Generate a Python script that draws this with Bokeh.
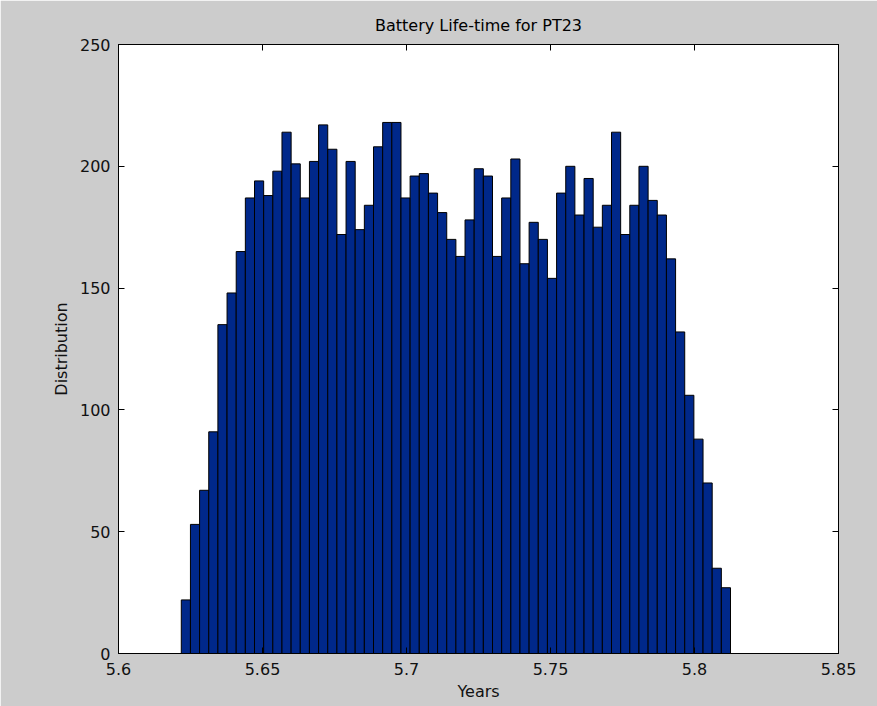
import numpy as np
from bokeh.plotting import figure
from bokeh.models import Range1d, LinearAxis, FixedTicker, CustomJSTickFormatter
from bokeh.embed import file_html
from bokeh.resources import INLINE

# ---- data ----
title_text = "Battery Life-time for PT23"
x_label = "Years"
y_label = "Distribution"

bin_first_edge = 5.6218
bin_last_edge = 5.8125
counts = [22, 53, 67, 91, 135, 148, 165, 187, 194, 188,
          198, 214, 201, 187, 202, 217, 207, 172, 202, 174,
          184, 208, 218, 218, 187, 196, 197, 189, 181, 170,
          163, 178, 199, 196, 163, 187, 203, 160, 177, 170,
          154, 189, 200, 180, 195, 175, 184, 214, 172, 184,
          200, 186, 180, 162, 132, 106, 88, 70, 35, 27]

x_ticks = [5.6, 5.65, 5.7, 5.75, 5.8, 5.85]
x_tick_labels = ["5.6", "5.65", "5.7", "5.75", "5.8", "5.85"]
y_ticks = [0, 50, 100, 150, 200, 250]

edges = np.linspace(bin_first_edge, bin_last_edge, len(counts) + 1)

FONT = "DejaVu Sans"
BG = "#cccccc"
BAR = "#00288a"

p = figure(width=877, height=706, output_backend="svg", toolbar_location=None,
           x_range=Range1d(5.6, 5.85), y_range=Range1d(0, 250),
           min_border_left=118, min_border_right=39, min_border_top=44, min_border_bottom=53)
p.background_fill_color = "white"
p.border_fill_color = BG
p.outline_line_color = "black"
p.outline_line_width = 1
p.xgrid.visible = False
p.ygrid.visible = False

p.title.text = title_text
p.title.align = "center"
p.title.text_font = FONT
p.title.text_font_size = "16px"
p.title.text_font_style = "normal"
p.title.text_color = "black"
p.title.standoff = 19

p.quad(left=edges[:-1], right=edges[1:], bottom=0, top=counts,
       fill_color=BAR, line_color="black", line_width=1)

def style_axis(ax):
    ax.axis_line_color = "black"
    ax.major_tick_line_color = "black"
    ax.major_tick_in = 6
    ax.major_tick_out = 0
    ax.minor_tick_line_color = None
    ax.major_label_text_font = FONT
    ax.major_label_text_font_size = "16px"
    ax.major_label_text_color = "#111111"
    ax.axis_label_text_font = FONT
    ax.axis_label_text_font_size = "16px"
    ax.axis_label_text_font_style = "normal"
    ax.axis_label_text_color = "#111111"

xa = p.xaxis[0]
xa.ticker = FixedTicker(ticks=x_ticks)
xa.major_label_overrides = dict(zip(x_ticks, x_tick_labels))
xa.axis_label = x_label
style_axis(xa)
xa.major_label_standoff = 9
xa.axis_label_standoff = 4

ya = p.yaxis[0]
ya.ticker = FixedTicker(ticks=y_ticks)
ya.axis_label = y_label
style_axis(ya)
ya.major_label_standoff = 8
ya.axis_label_standoff = 6

blank = CustomJSTickFormatter(code="return ''")
top_ax = LinearAxis(ticker=FixedTicker(ticks=x_ticks), formatter=blank)
style_axis(top_ax)
top_ax.major_label_standoff = 0
top_ax.major_label_text_font_size = "1px"
p.add_layout(top_ax, "above")

right_ax = LinearAxis(ticker=FixedTicker(ticks=y_ticks), formatter=blank)
style_axis(right_ax)
right_ax.major_label_standoff = 0
right_ax.major_label_text_font_size = "1px"
p.add_layout(right_ax, "right")

open("out.html", "w").write(file_html(p, INLINE))
